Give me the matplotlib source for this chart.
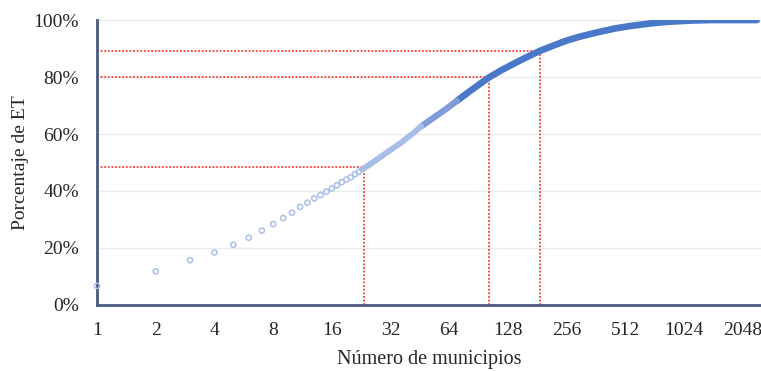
import numpy as np
import matplotlib.pyplot as plt
from matplotlib.ticker import FixedLocator, FuncFormatter, NullLocator

# single municipalities, cumulative share
n_single = [1, 2, 3, 4, 5, 6, 7, 8, 9, 10, 11, 12, 13, 14, 15, 16, 17, 18, 19, 20, 21, 22, 23]
pct_single = [6.7, 11.8, 15.7, 18.4, 21.1, 23.6, 26.1, 28.4, 30.5, 32.4, 34.4, 35.9, 37.4,
              38.6, 39.8, 40.9, 42.0, 43.1, 44.0, 44.8, 45.9, 46.7, 47.7]

# dense part of the curve, where the markers merge into a band
n_light = [23, 24, 28, 32, 36, 42, 46]
pct_light = [47.7, 48.5, 51.6, 54.4, 56.8, 60.4, 62.7]
n_mid = [46, 55, 62, 70]
pct_mid = [62.7, 66.4, 68.9, 71.6]
n_dense = [70, 80, 92, 102, 120, 140, 160, 187, 220, 256, 300, 380, 450, 541, 686,
           850, 1100, 1400, 2418]
pct_dense = [71.6, 74.6, 77.6, 79.8, 82.6, 85.0, 87.0, 89.2, 91.1, 92.8, 94.2, 95.9,
             97.0, 97.9, 98.8, 99.4, 99.8, 100.0, 100.0]

# reference lines (n, %)
ref_n = [23.5, 102.5, 187]
ref_pct = [48.5, 80.0, 89.1]

xticks = [1, 2, 4, 8, 16, 32, 64, 128, 256, 512, 1024, 2048]

plt.rcParams['font.family'] = ['Liberation Serif', 'DejaVu Serif']

fig = plt.figure(figsize=(7.61, 3.71), dpi=100)
ax = fig.add_axes([0.1275, 0.178, 0.8725, 0.768])

ax.set_xscale('log', base=2)
ax.set_xlim(1, 2540)
ax.set_ylim(0, 100)

for y in [20, 40, 60, 80, 100]:
    ax.axhline(y, color='#ebebeb', lw=1, zorder=0)

# red dotted guides
for xn, yp in zip(ref_n, ref_pct):
    ax.plot([1, xn], [yp, yp], color='#ff3b3b', lw=1.3, ls=(0, (1, 1)), zorder=2)
    ax.plot([xn, xn], [0, yp], color='#ff3b3b', lw=1.3, ls=(0, (1, 1)), zorder=2)

ax.plot(n_dense, pct_dense, color='#4a78c8', lw=4.8, solid_capstyle='round', zorder=3)
ax.plot(n_mid, pct_mid, color='#7d9cd8', lw=4.5, solid_capstyle='round', zorder=3.1)
ax.plot(n_light, pct_light, color='#a7bce7', lw=4.2, solid_capstyle='round', zorder=3.2)
ax.scatter(n_single, pct_single, s=14, facecolors='none', edgecolors='#a9bfea',
           linewidths=1.1, zorder=4, clip_on=False)

ax.xaxis.set_major_locator(FixedLocator(xticks))
ax.xaxis.set_minor_locator(NullLocator())
ax.xaxis.set_major_formatter(FuncFormatter(lambda v, p: '%d' % v))
ax.set_yticks([0, 20, 40, 60, 80, 100])
ax.yaxis.set_major_formatter(FuncFormatter(lambda v, p: '%d%%' % v))
ax.tick_params(length=0, labelsize=14, colors='#262626')
ax.tick_params(axis='x', pad=12)
ax.tick_params(axis='y', pad=13)

for s in ['top', 'right']:
    ax.spines[s].set_visible(False)
for s in ['left', 'bottom']:
    ax.spines[s].set_color('#4a5a80')
    ax.spines[s].set_linewidth(2)

ax.set_ylabel('Porcentaje de ET', fontsize=14, color='#262626', labelpad=3)
ax.set_xlabel('Número de municipios', fontsize=14.5, color='#262626', labelpad=8)

fig.savefig('out.png', dpi=100)
